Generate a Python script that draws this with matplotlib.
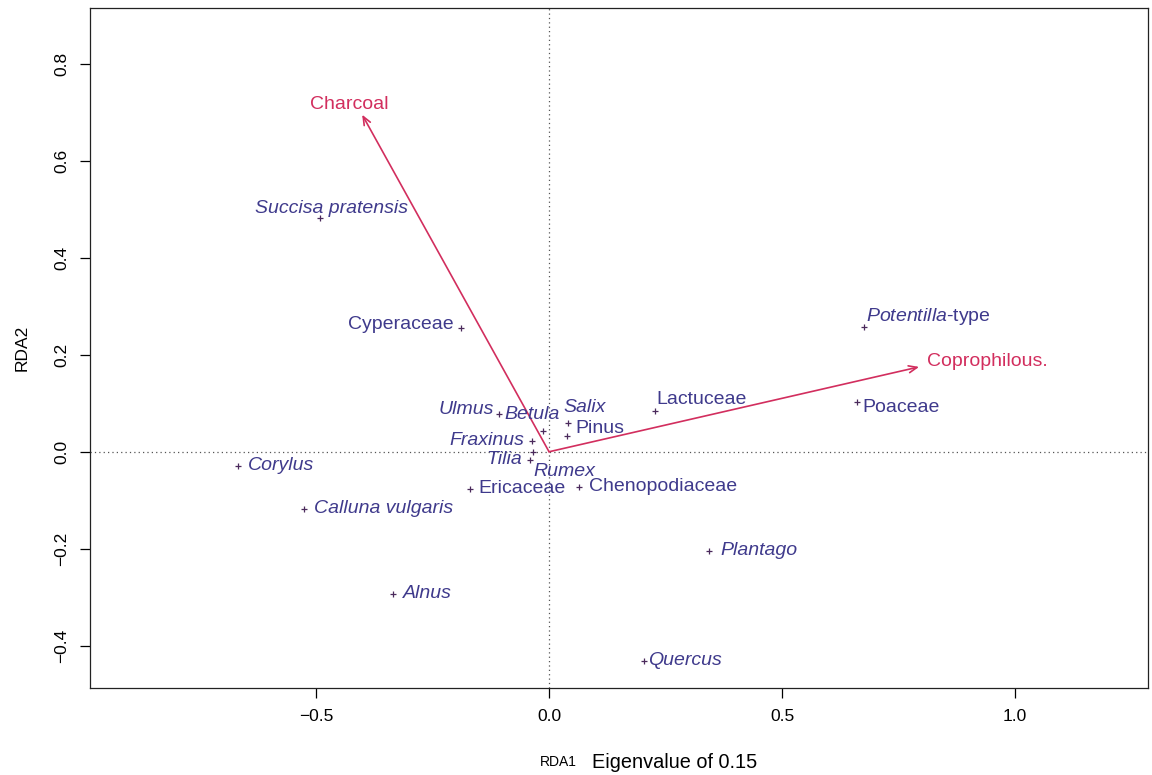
import matplotlib
matplotlib.use("Agg")
import matplotlib.pyplot as plt

plt.rcParams['font.family'] = ['Liberation Sans', 'DejaVu Sans']
plt.rcParams['mathtext.fontset'] = 'custom'
plt.rcParams['mathtext.rm'] = 'Liberation Sans'
plt.rcParams['mathtext.it'] = 'Liberation Sans:italic'

# species scores (RDA1, RDA2)
species = ['Succisa pratensis', 'Cyperaceae', 'Potentilla-type', 'Poaceae', 'Lactuceae',
           'Ulmus', 'Betula', 'Salix', 'Pinus', 'Fraxinus', 'Tilia', 'Rumex',
           'Ericaceae', 'Chenopodiaceae', 'Corylus', 'Calluna vulgaris', 'Alnus',
           'Plantago', 'Quercus']
rda1 = [-0.491, -0.189, 0.676, 0.661, 0.227, -0.107, -0.013, 0.041, 0.038, -0.036,
        -0.041, -0.034, -0.170, 0.064, -0.667, -0.526, -0.335, 0.343, 0.204]
rda2 = [0.482, 0.256, 0.258, 0.103, 0.085, 0.078, 0.043, 0.060, 0.033, 0.023,
        -0.016, 0.000, -0.076, -0.072, -0.029, -0.118, -0.293, -0.204, -0.431]
italic = {'Succisa pratensis', 'Ulmus', 'Betula', 'Salix', 'Fraxinus', 'Tilia', 'Rumex',
          'Corylus', 'Calluna vulgaris', 'Alnus', 'Plantago', 'Quercus'}

# environmental vectors
env_names = ['Charcoal', 'Coprophilous.']
env_x = [-0.401, 0.794]
env_y = [0.695, 0.175]

# label placement: (dx, dy in points, ha)
label_pos = {
    'Succisa pratensis': (8, 7, 'center'),
    'Cyperaceae': (-5, 2, 'right'),
    'Potentilla-type': (1, 7, 'left'),
    'Poaceae': (4, -4, 'left'),
    'Lactuceae': (1, 8, 'left'),
    'Ulmus': (-4, 3, 'right'),
    'Betula': (-8, 12, 'center'),
    'Salix': (12, 11, 'center'),
    'Pinus': (6, 5, 'left'),
    'Fraxinus': (-6, 0, 'right'),
    'Tilia': (-6, 0, 'right'),
    'Rumex': (0, -14, 'left'),
    'Ericaceae': (6, 0, 'left'),
    'Chenopodiaceae': (7, 0, 'left'),
    'Corylus': (7, 0, 'left'),
    'Calluna vulgaris': (7, 0, 'left'),
    'Alnus': (7, 0, 'left'),
    'Plantago': (8, 0, 'left'),
    'Quercus': (3, 0, 'left'),
}
env_label_pos = {'Charcoal': (-9, 7.5, 'center'), 'Coprophilous.': (6, 4, 'left')}

sp_col = '#3f3a8c'
pt_col = '#4b2a5c'
env_col = '#d22e5e'

fig = plt.figure(figsize=(11.52, 7.75), dpi=100)
ax = fig.add_axes([0.0781, 0.1123, 0.9184, 0.8774])
ax.set_xlim(-0.985, 1.285)
ax.set_ylim(-0.487, 0.915)

# dotted axes through the origin
ax.axhline(0, color='#555555', lw=0.9, ls=(0, (1, 2.5)), zorder=1)
ax.axvline(0, color='#555555', lw=0.9, ls=(0, (1, 2.5)), zorder=1)

ax.plot(rda1, rda2, ls='none', marker='+', ms=5, mew=0.9, color=pt_col, zorder=3)

for name, x, y in zip(species, rda1, rda2):
    dx, dy, ha = label_pos[name]
    if name == 'Potentilla-type':
        txt = r'$\mathit{Potentilla}$-type'
        style = 'normal'
    else:
        txt = name
        style = 'italic' if name in italic else 'normal'
    ax.annotate(txt, (x, y), xytext=(dx, dy), textcoords='offset points',
                ha=ha, va='center', fontsize=14, color=sp_col, style=style, zorder=4)

for name, x, y in zip(env_names, env_x, env_y):
    ax.annotate('', xy=(x, y), xytext=(0, 0),
                arrowprops=dict(arrowstyle='->,head_length=0.6,head_width=0.25',
                                color=env_col, lw=1.2, shrinkA=0, shrinkB=0), zorder=2)
    dx, dy, ha = env_label_pos[name]
    ax.annotate(name, (x, y), xytext=(dx, dy), textcoords='offset points',
                ha=ha, va='center', fontsize=14, color=env_col, zorder=4)

ax.set_xticks([-0.5, 0.0, 0.5, 1.0])
ax.set_xticklabels(['\u22120.5', '0.0', '0.5', '1.0'])
ax.set_yticks([-0.4, -0.2, 0.0, 0.2, 0.4, 0.6, 0.8])
ax.set_yticklabels(['\u22120.4', '\u22120.2', '0.0', '0.2', '0.4', '0.6', '0.8'],
                   rotation=90, va='center')
ax.tick_params(direction='out', length=7, width=0.9, labelsize=12.5, pad=8)
for s in ax.spines.values():
    s.set_linewidth(0.9)
    s.set_color('#222222')

fig.text(0.5005, 0.008, 'RDA1', fontsize=10, ha='right', va='bottom')
fig.text(0.5135, 0.004, 'Eigenvalue of 0.15', fontsize=14.3, ha='left', va='bottom')
ax.set_ylabel('RDA2', fontsize=12.5, labelpad=18)

fig.savefig('out.png', dpi=100)
